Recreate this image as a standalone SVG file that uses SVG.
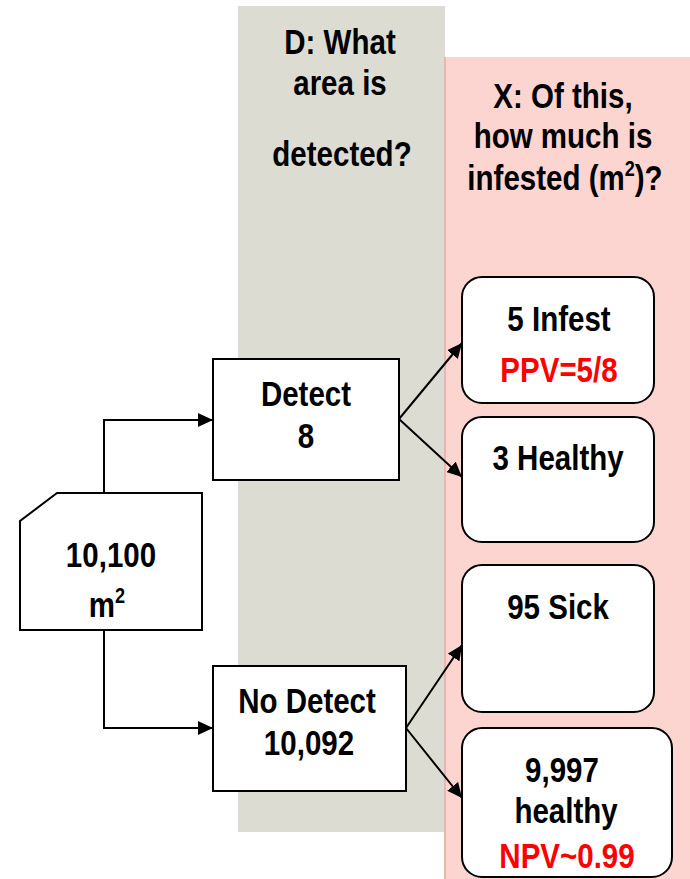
<svg xmlns="http://www.w3.org/2000/svg" width="690" height="879" viewBox="0 0 690 879">
  <style>
    .lbl { font-family: "Liberation Sans", Arial, sans-serif; font-weight: bold; font-size: 36px; text-anchor: middle; fill: #000;
           transform-box: fill-box; transform-origin: center; transform: scaleX(0.82); }
    .red { fill: #ff0000; }
    .box { fill: #fff; stroke: #000; stroke-width: 2; }
    .conn { fill: none; stroke: #000; stroke-width: 2; marker-end: url(#arrow); }
  </style>
  <defs>
    <marker id="arrow" markerUnits="userSpaceOnUse" markerWidth="16" markerHeight="14" refX="15" refY="7" orient="auto">
      <path d="M0,0 L15,7 L0,14 z" fill="#000"/>
    </marker>
  </defs>

  <rect width="690" height="879" fill="#fff"/>

  <!-- column bands -->
  <g id="band-detected">
    <rect x="238" y="6" width="207" height="826" fill="#dcdcd3"/>
    <text class="lbl" x="340" y="54">D: What</text>
    <text class="lbl" x="340" y="95">area is</text>
    <text class="lbl" x="342" y="166">detected?</text>
  </g>
  <g id="band-infested">
    <rect x="444" y="57" width="246" height="822" fill="#fdd5d0"/>
    <line x1="445" y1="57" x2="445" y2="879" stroke="#e9b7b0" stroke-width="2"/>
    <text class="lbl" x="563" y="108">X: Of this,</text>
    <text class="lbl" x="563" y="148">how much is</text>
    <text class="lbl" x="565" y="190">infested (m<tspan font-size="22" dy="-14">2</tspan><tspan dy="14">)?</tspan></text>
  </g>

  <!-- connectors -->
  <g id="connectors">
    <path class="conn" d="M104,493 V420 H213"/>
    <path class="conn" d="M104,630 V728 H213"/>
    <path class="conn" d="M399,419 L462,343"/>
    <path class="conn" d="M399,419 L462,477"/>
    <path class="conn" d="M406,728 L462,645"/>
    <path class="conn" d="M406,728 L462,798"/>
  </g>

  <!-- nodes -->
  <g id="area">
    <path class="box" d="M57,493 H202 V630 H20 V521 Z"/>
    <text class="lbl" x="111" y="567">10,100</text>
    <text class="lbl" x="107" y="617">m<tspan font-size="22" dy="-14">2</tspan></text>
  </g>
  <g id="detect">
    <rect class="box" x="213" y="359" width="186" height="121"/>
    <text class="lbl" x="306" y="406">Detect</text>
    <text class="lbl" x="306" y="448">8</text>
  </g>
  <g id="no-detect">
    <rect class="box" x="213" y="666" width="193" height="125"/>
    <text class="lbl" x="307" y="713">No Detect</text>
    <text class="lbl" x="309" y="755">10,092</text>
  </g>
  <g id="infest">
    <rect class="box" x="462" y="277" width="192" height="126" rx="20"/>
    <text class="lbl" x="559" y="331">5 Infest</text>
    <text class="lbl red" x="559" y="382">PPV=5/8</text>
  </g>
  <g id="healthy-detected">
    <rect class="box" x="462" y="417" width="192" height="125" rx="20"/>
    <text class="lbl" x="558" y="470">3 Healthy</text>
  </g>
  <g id="sick">
    <rect class="box" x="462" y="565" width="192" height="147" rx="20"/>
    <text class="lbl" x="558" y="619">95 Sick</text>
  </g>
  <g id="healthy-undetected">
    <rect class="box" x="462" y="728" width="210" height="149" rx="20"/>
    <text class="lbl" x="562" y="782">9,997</text>
    <text class="lbl" x="566" y="823">healthy</text>
    <text class="lbl red" x="567" y="868">NPV~0.99</text>
  </g>
</svg>
